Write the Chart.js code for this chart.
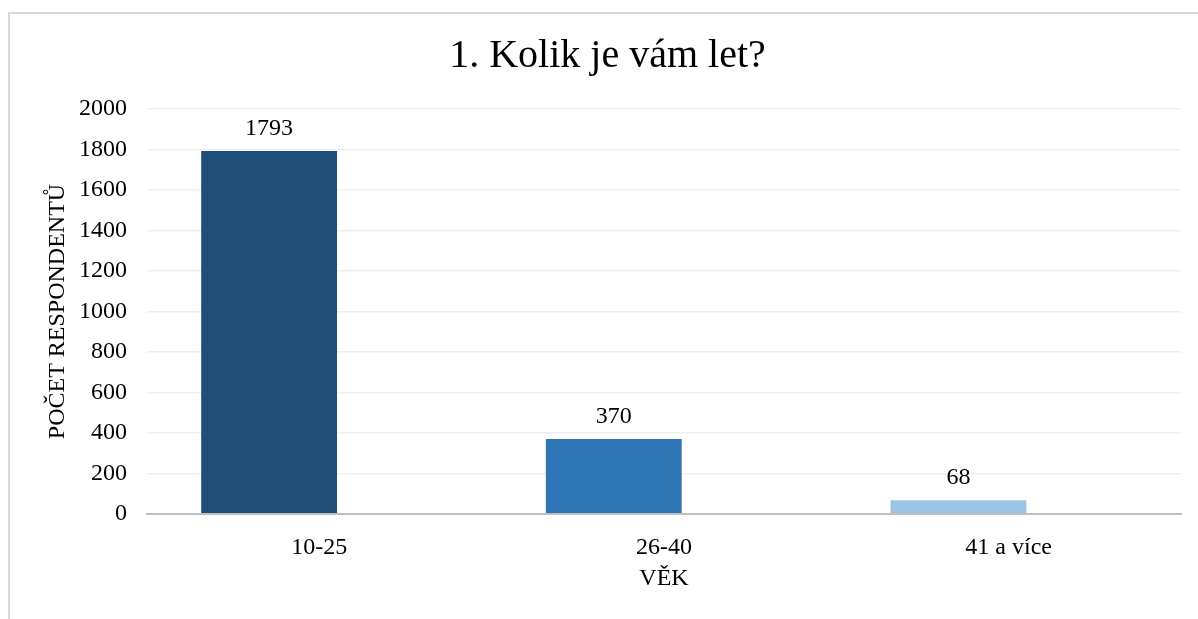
<!DOCTYPE html>
<html>
<head>
<meta charset="utf-8">
<script src="https://cdn.jsdelivr.net/npm/chart.js@4.4.1/dist/chart.umd.min.js"></script>
<style>
  html, body { margin: 0; padding: 0; background: #fff; }
  #frame { position: absolute; left: 8px; top: 12px; width: 1400px; height: 800px; border: 2px solid #d9d9d9; }
  #wrap { position: absolute; left: 0; top: 0; width: 1198px; height: 619px; }
</style>
</head>
<body>
<div id="frame"></div>
<div id="wrap"><canvas id="vek"></canvas></div>
<script>
var kategorie = ["10-25", "26-40", "41 a více"];
var pocty = [1793, 370, 68];
var barvy = ["#1f4e79", "#2e75b6", "#9dc3e6"];
var prazdne = [null, null, null];

var font = "'Liberation Serif', 'Times New Roman', serif";

// popisky hodnot nad sloupci
var hodnotyPlugin = {
    id: 'hodnoty',
    afterDatasetsDraw: function(chart) {
        var ctx = chart.ctx;
        var meta = chart.getDatasetMeta(0);
        ctx.save();
        ctx.font = "24px " + font;
        ctx.fillStyle = "#000";
        ctx.textAlign = "center";
        ctx.textBaseline = "alphabetic";
        meta.data.forEach(function(bar, i) {
            ctx.fillText(String(pocty[i]), bar.x, bar.y - 16);
        });
        ctx.restore();
    }
};

var ctx = document.getElementById('vek').getContext('2d');
var chart = new Chart(ctx, {
    type: 'bar',
    data: {
        labels: kategorie,
        datasets: [{
            label: "Počet",
            data: pocty,
            backgroundColor: barvy,
            categoryPercentage: 0.583,
            barPercentage: 1.352
        }, {
            label: "",
            data: prazdne,
            categoryPercentage: 0.583,
            barPercentage: 1.352
        }]
    },
    options: {
        responsive: true,
        maintainAspectRatio: false,
        animation: false,
        layout: { padding: { left: 34, right: 17, top: 0, bottom: 0 } },
        plugins: {
            legend: { display: false },
            tooltip: { enabled: false },
            title: {
                display: true,
                text: "1. Kolik je vám let?",
                color: "#000",
                font: { family: font, size: 40, weight: 'normal' },
                padding: { top: 32, bottom: 29 }
            }
        },
        scales: {
            x: {
                grid: { display: false },
                border: { display: true, color: "#bfbfbf", width: 2 },
                ticks: { color: "#000", font: { family: font, size: 24 }, padding: 11 },
                title: {
                    display: true,
                    text: "VĚK",
                    color: "#000",
                    font: { family: font, size: 24 },
                    padding: { top: 0, bottom: 26 }
                },
                afterFit: function(s) { s.height = 105; }
            },
            y: {
                min: 0,
                max: 2000,
                ticks: {
                    stepSize: 200,
                    color: "#000",
                    font: { family: font, size: 24 },
                    padding: 20,
                    callback: function(v) { return String(v); }
                },
                grid: {
                    drawTicks: false,
                    color: function(c) { return c.tick && c.tick.value === 0 ? "#bfbfbf" : "#eeeeee"; },
                    lineWidth: function(c) { return c.tick && c.tick.value === 0 ? 2 : 1.5; }
                },
                border: { display: false },
                title: {
                    display: true,
                    text: "POČET RESPONDENTŮ",
                    color: "#000",
                    font: { family: font, size: 24 },
                    padding: { top: 9, bottom: 0 }
                },
                afterFit: function(s) { s.width = 113; }
            }
        }
    },
    plugins: [hodnotyPlugin]
});
</script>
</body>
</html>
